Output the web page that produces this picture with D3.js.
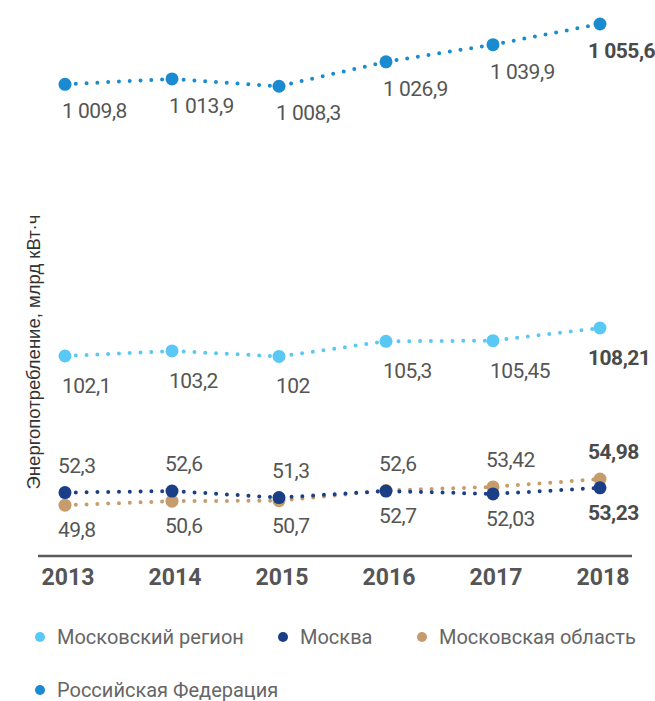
<!DOCTYPE html>
<html>
<head>
<meta charset="utf-8">
<script src="https://cdn.jsdelivr.net/npm/d3@7"></script>
<style>
  html, body { margin: 0; padding: 0; background: #fff; }
  svg { display: block; }
</style>
</head>
<body>
<div id="chart"></div>
<script>
var years      = [2013, 2014, 2015, 2016, 2017, 2018];
var russia     = [1009.8, 1013.9, 1008.3, 1026.9, 1039.9, 1055.6];
var mosRegion  = [102.1, 103.2, 102, 105.3, 105.45, 108.21];
var moscow     = [52.3, 52.6, 51.3, 52.6, 52.03, 53.23];
var mosOblast  = [49.8, 50.6, 50.7, 52.7, 53.42, 54.98];
var seriesNames = ['Московский регион', 'Москва', 'Московская область', 'Российская Федерация'];
var yTitle = 'Энергопотребление, млрд кВт·ч';

(function () {
    var width = 655, height = 701;
    var textColor = '#555';
    var fontNum = 'Roboto, "DejaVu Sans", sans-serif';

    var svg = d3.select('#chart').append('svg')
        .attr('width', width)
        .attr('height', height);

    var x = d3.scalePoint().domain(years).range([65, 600]);

    // broken value axis: three bands, each linear
    var y = d3.scaleLinear()
        .domain([45, 60, 95, 110, 1000, 1060])
        .range([529.5, 453.6, 388.5, 319.8, 97.2, 18.2]);

    function fmt(v) {
        var parts = String(v).split('.');
        var intPart = parts[0].replace(/\B(?=(\d{3})+(?!\d))/g, ' ');
        return parts.length > 1 ? intPart + ',' + parts[1] : intPart;
    }

    // labels: 'b' = below the point, 't' = above
    var series = [
        { name: seriesNames[2], values: mosOblast, color: '#c69c6d', pos: ['b', 'b', 'b', 'b', 't', 't'] },
        { name: seriesNames[1], values: moscow,    color: '#1b3f86', pos: ['t', 't', 't', 't', 'b', 'b'] },
        { name: seriesNames[0], values: mosRegion, color: '#5ac8f5', pos: ['b', 'b', 'b', 'b', 'b', 'b'], below: 37 },
        { name: seriesNames[3], values: russia,    color: '#1b8bd1', pos: ['b', 'b', 'b', 'b', 'b', 'b'], below: 34 }
    ];

    var line = d3.line()
        .x(function (d, i) { return x(years[i]); })
        .y(function (d) { return y(d); });

    series.forEach(function (s) {
        svg.append('path')
            .datum(s.values)
            .attr('d', line)
            .attr('fill', 'none')
            .attr('stroke', s.color)
            .attr('stroke-width', 4)
            .attr('stroke-linecap', 'round')
            .attr('stroke-dasharray', '0 10.8');
    });

    series.forEach(function (s) {
        svg.selectAll(null)
            .data(s.values)
            .enter().append('circle')
            .attr('cx', function (d, i) { return x(years[i]); })
            .attr('cy', function (d) { return y(d); })
            .attr('r', 6.5)
            .attr('fill', s.color);
    });

    series.forEach(function (s) {
        svg.selectAll(null)
            .data(s.values)
            .enter().append('text')
            .attr('x', function (d, i) { return x(years[i]) + (i === years.length - 1 ? -12 : (s.below ? -3 : -7)); })
            .attr('y', function (d, i) {
                if (s.pos[i] === 't') return y(d) - 20;
                return y(d) + (s.below || 32);
            })
            .attr('font-family', fontNum)
            .attr('font-size', 21)
            .attr('letter-spacing', -0.5)
            .attr('font-weight', function (d, i) { return i === years.length - 1 ? 700 : 400; })
            .attr('fill', function (d, i) { return i === years.length - 1 ? '#4a4a4a' : textColor; })
            .text(fmt);
    });

    // x axis
    svg.append('line')
        .attr('x1', 38).attr('x2', 632)
        .attr('y1', 556).attr('y2', 556)
        .attr('stroke', '#5a5a5a')
        .attr('stroke-width', 2.5);

    svg.selectAll('.year')
        .data(years)
        .enter().append('text')
        .attr('class', 'year')
        .attr('x', function (d) { return x(d) + 3; })
        .attr('y', 585)
        .attr('text-anchor', 'middle')
        .attr('font-family', fontNum)
        .attr('font-size', 23)
        .attr('font-weight', 700)
        .attr('fill', textColor)
        .text(function (d) { return d; });

    // y axis title
    svg.append('text')
        .attr('transform', 'translate(40,352) rotate(-90)')
        .attr('text-anchor', 'middle')
        .attr('font-family', '"Liberation Sans", Arial, sans-serif')
        .attr('font-size', 18.5)
        .attr('fill', '#333')
        .text(yTitle);

    /* Legende */
    var legendItems = [
        { name: seriesNames[0], color: '#5ac8f5', x: 40,  y: 637 },
        { name: seriesNames[1], color: '#1b3f86', x: 283, y: 637 },
        { name: seriesNames[2], color: '#c69c6d', x: 422, y: 637 },
        { name: seriesNames[3], color: '#1b8bd1', x: 40,  y: 690 }
    ];

    legendItems.forEach(function (it) {
        svg.append('circle')
            .attr('cx', it.x)
            .attr('cy', it.y)
            .attr('r', 5)
            .attr('fill', it.color);
        svg.append('text')
            .attr('x', it.x + 17)
            .attr('y', it.y + 7)
            .attr('font-family', fontNum)
            .attr('font-size', 20)
            .attr('fill', '#666')
            .text(it.name);
    });
})();
</script>
</body>
</html>
